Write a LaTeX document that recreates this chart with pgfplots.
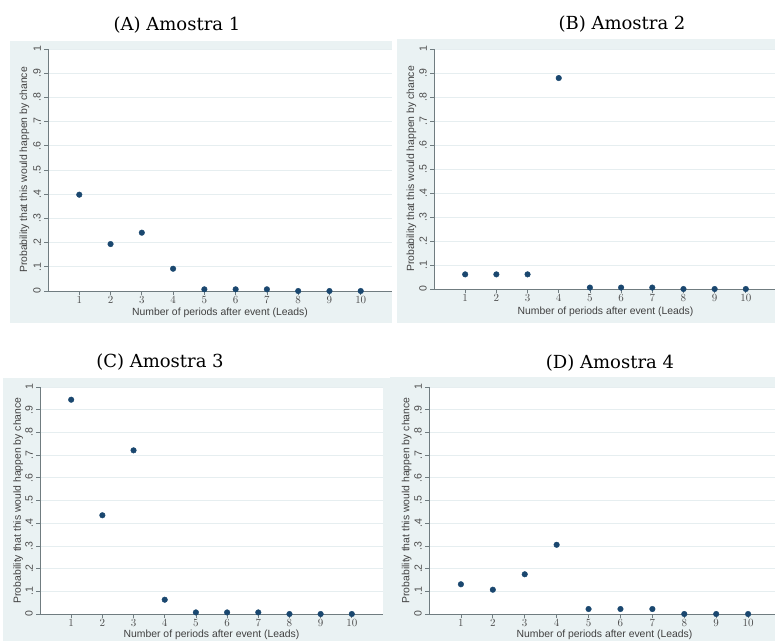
\documentclass[border=0pt]{standalone}
\usepackage{fontspec}
\setmainfont{Liberation Sans}
\newfontfamily\titlefont{DejaVu Serif}
\usepackage{pgfplots}
\pgfplotsset{compat=1.18}

\definecolor{stbg}{HTML}{EAF2F3}
\definecolor{stgrid}{HTML}{E6EEF0}
\definecolor{stnavy}{HTML}{1A476F}
\definecolor{staxis}{HTML}{707C80}

\pgfplotsset{
  stata/.style={
    scale only axis,
    xmin=0, xmax=11, ymin=0, ymax=1,
    axis x line*=bottom, axis y line*=left,
    axis line style={staxis, line width=0.8pt, -},
    axis background/.style={fill=white},
    xtick={1,2,3,4,5,6,7,8,9,10},
    ytick={0,0.1,0.2,0.3,0.4,0.5,0.6,0.7,0.8,0.9,1},
    yticklabels={0,.1,.2,.3,.4,.5,.6,.7,.8,.9,1},
    tick align=outside, major tick length=4pt,
    tick style={staxis, line width=0.7pt},
    tick label style={font=\fontsize{10.5}{11}\selectfont, text=black!70, inner sep=1pt},
    yticklabel style={rotate=90, anchor=south, yshift=2pt},
    ymajorgrids, grid style={stgrid, line width=0.8pt},
    label style={font=\fontsize{10.4}{11}\selectfont, text=black!75, inner sep=0pt},
    xlabel={Number of periods after event (Leads)},
    ylabel={Probability that this would happen by chance},
    clip=false,
  },
  pts/.style={only marks, mark=*, mark size=2.8pt, color=stnavy},
}

\begin{document}
\begin{tikzpicture}[x=1pt, y=1pt]
\clip (0,0) rectangle (775,641);
\fill[white] (0,0) rectangle (775,641);

% panel backgrounds
\fill[stbg] (10,318) rectangle (392,600);
\fill[stbg] (397,318) rectangle (775,602);
\fill[stbg] (3,0) rectangle (390,263);
\fill[stbg] (390,0) rectangle (775,264);

% titles
\node[font=\titlefont\fontsize{18}{21}\selectfont] at (177,616) {(A) Amostra 1};
\node[font=\titlefont\fontsize{18}{21}\selectfont] at (622,617) {(B) Amostra 2};
\node[font=\titlefont\fontsize{18}{21}\selectfont] at (160,279) {(C) Amostra 3};
\node[font=\titlefont\fontsize{18}{21}\selectfont] at (610,278) {(D) Amostra 4};

% (A)
\begin{axis}[stata, at={(48pt,350pt)}, anchor=south west,
  width=344pt, height=242pt,
  xlabel style={at={(axis cs:5.5,-0.091)}, anchor=center},
  ylabel style={at={(axis cs:-0.75,0.5)}, anchor=center}]
\addplot[pts] coordinates {
  (1,0.398) (2,0.194) (3,0.241) (4,0.092) (5,0.007)
  (6,0.007) (7,0.007) (8,0) (9,0) (10,0)};
\end{axis}

% (B)
\begin{axis}[stata, at={(434pt,352pt)}, anchor=south west,
  width=343pt, height=240pt,
  xlabel style={at={(axis cs:5.5,-0.096)}, anchor=center},
  ylabel style={at={(axis cs:-0.72,0.5)}, anchor=center}]
\addplot[pts] coordinates {
  (1,0.061) (2,0.061) (3,0.061) (4,0.879) (5,0.006)
  (6,0.006) (7,0.006) (8,0) (9,0) (10,0)};
\end{axis}

% (C)
\begin{axis}[stata, at={(40pt,27pt)}, anchor=south west,
  width=343pt, height=227pt,
  xlabel style={at={(axis cs:5.5,-0.0925)}, anchor=center},
  ylabel style={at={(axis cs:-0.70,0.5)}, anchor=center}]
\addplot[pts] coordinates {
  (1,0.944) (2,0.435) (3,0.721) (4,0.063) (5,0.007)
  (6,0.007) (7,0.007) (8,0) (9,0) (10,0)};
\end{axis}

% (D)
\begin{axis}[stata, at={(429pt,27pt)}, anchor=south west,
  width=351pt, height=227pt,
  xlabel style={at={(axis cs:5.5,-0.0925)}, anchor=center},
  ylabel style={at={(axis cs:-0.70,0.5)}, anchor=center}]
\addplot[pts] coordinates {
  (1,0.131) (2,0.107) (3,0.175) (4,0.305) (5,0.022)
  (6,0.022) (7,0.022) (8,0) (9,0) (10,0)};
\end{axis}
\end{tikzpicture}
\end{document}
